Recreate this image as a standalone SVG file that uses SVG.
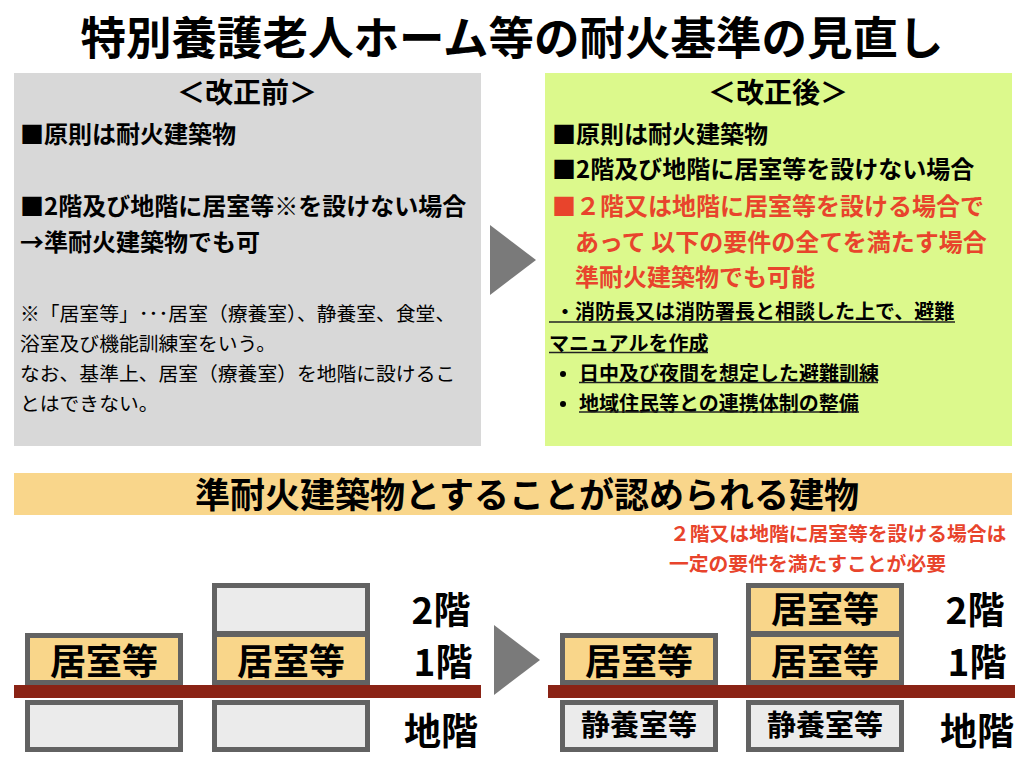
<svg xmlns="http://www.w3.org/2000/svg" width="1024" height="768" viewBox="0 0 1024 768">
<style>
text{font-family:"Noto Sans CJK JP","Noto Sans",sans-serif;font-weight:bold;fill:#000}
.red{fill:#e8442c}
.sm{font-size:19.8px;font-weight:normal}
.smb{font-size:20px}
.hd{font-size:28px}
.md{font-size:24px}
.fl{stroke:#626262;stroke-width:5}
.yel{fill:#f9d68a}
.gry{fill:#ebebeb}
.rm{font-size:36px}
.bm{font-size:29px}
.lv{font-size:37px}
.ul{stroke:#222;stroke-width:1.5}
.ground{fill:#8a2315}
.arrow{fill:#7a7a7a}
</style>
<rect width="1024" height="768" fill="#fff"/>
<g id="title"><text x="512" y="55" font-size="45.5" text-anchor="middle">特別養護老人ホーム等の耐火基準の見直し</text></g>
<g id="before">
<rect x="14" y="73" width="467" height="373" fill="#d8d8d8"/>
<text x="247" y="103" class="hd" text-anchor="middle">＜改正前＞</text>
<text x="20" y="143" class="md">■原則は耐火建築物</text>
<text x="20" y="215" class="md">■2階及び地階に居室等※を設けない場合</text>
<text x="20" y="251" class="md">→準耐火建築物でも可</text>
<text x="20" y="320.5" class="sm">※「居室等」･･･居室（療養室）、静養室、食堂、</text>
<text x="20" y="350.5" class="sm">浴室及び機能訓練室をいう。</text>
<text x="20" y="380.5" class="sm">なお、基準上、居室（療養室）を地階に設けるこ</text>
<text x="20" y="410.5" class="sm">とはできない。</text>
</g>
<g id="after">
<rect x="545" y="73" width="467" height="373" fill="#dcf98c"/>
<text x="778" y="103" class="hd" text-anchor="middle">＜改正後＞</text>
<text x="552" y="143" class="md">■原則は耐火建築物</text>
<text x="552" y="178" class="md">■2階及び地階に居室等を設けない場合</text>
<text x="552" y="215" class="md red">■２階又は地階に居室等を設ける場合で</text>
<text x="575" y="251" class="md red" xml:space="preserve">あって 以下の要件の全てを満たす場合</text>
<text x="575" y="286" class="md red">準耐火建築物でも可能</text>
<text x="555" y="318.5" class="smb">・消防長又は消防署長と相談した上で、避難</text>
<line x1="549" y1="322" x2="955" y2="322" class="ul"/>
<text x="549" y="350.5" class="smb">マニュアルを作成</text>
<line x1="549" y1="352.5" x2="708" y2="352.5" class="ul"/>
<circle cx="563" cy="374" r="3" fill="#000"/>
<text x="579" y="380.5" class="smb">日中及び夜間を想定した避難訓練</text>
<line x1="579" y1="382.5" x2="878" y2="382.5" class="ul"/>
<circle cx="563" cy="404" r="3" fill="#000"/>
<text x="579" y="410.5" class="smb">地域住民等との連携体制の整備</text>
<line x1="579" y1="412" x2="859" y2="412" class="ul"/>
</g>
<g id="band">
<rect x="14" y="473" width="998" height="42" fill="#f9d68b"/>
<text x="527" y="508" font-size="35" text-anchor="middle">準耐火建築物とすることが認められる建物</text>
</g>
<g id="note">
<text x="670" y="541" font-size="19.8" class="red">２階又は地階に居室等を設ける場合は</text>
<text x="669" y="571" font-size="19.8" class="red">一定の要件を満たすことが必要</text>
</g>
<g id="connectors">
<polygon points="490,225 536,260 490,295" class="arrow"/>
<polygon points="494,625 540,660 494,695" class="arrow"/>
</g>
<g id="building-before-1">
<rect x="27.5" y="635.5" width="153" height="47" class="fl yel"/>
<text x="104" y="675" class="rm" text-anchor="middle">居室等</text>
<rect x="27.5" y="702.5" width="153" height="47" class="fl gry"/>
</g>
<g id="building-before-2">
<rect x="214.5" y="585.5" width="153" height="48" class="fl gry"/>
<rect x="214.5" y="634.5" width="153" height="48" class="fl yel"/>
<text x="291" y="675" class="rm" text-anchor="middle">居室等</text>
<rect x="214.5" y="702.5" width="153" height="47" class="fl gry"/>
</g>
<g id="ground-before"><rect x="14" y="685" width="467" height="13" class="ground"/></g>
<g id="levels-before">
<text x="441" y="624" class="lv" text-anchor="middle">2階</text>
<text x="443" y="676" class="lv" text-anchor="middle">1階</text>
<text x="441" y="745" class="lv" text-anchor="middle">地階</text>
</g>
<g id="building-after-1">
<rect x="562.5" y="635.5" width="153" height="47" class="fl yel"/>
<text x="639" y="675" class="rm" text-anchor="middle">居室等</text>
<rect x="562.5" y="702.5" width="153" height="47" class="fl gry"/>
<text x="639" y="736" class="bm" text-anchor="middle">静養室等</text>
</g>
<g id="building-after-2">
<rect x="748.5" y="585.5" width="153" height="48" class="fl yel"/>
<text x="825" y="623" class="rm" text-anchor="middle">居室等</text>
<rect x="748.5" y="634.5" width="153" height="48" class="fl yel"/>
<text x="825" y="675" class="rm" text-anchor="middle">居室等</text>
<rect x="748.5" y="702.5" width="153" height="47" class="fl gry"/>
<text x="825" y="736" class="bm" text-anchor="middle">静養室等</text>
</g>
<g id="ground-after"><rect x="548" y="685" width="467" height="13" class="ground"/></g>
<g id="levels-after">
<text x="975" y="624" class="lv" text-anchor="middle">2階</text>
<text x="977" y="676" class="lv" text-anchor="middle">1階</text>
<text x="977" y="745" class="lv" text-anchor="middle">地階</text>
</g>
</svg>
